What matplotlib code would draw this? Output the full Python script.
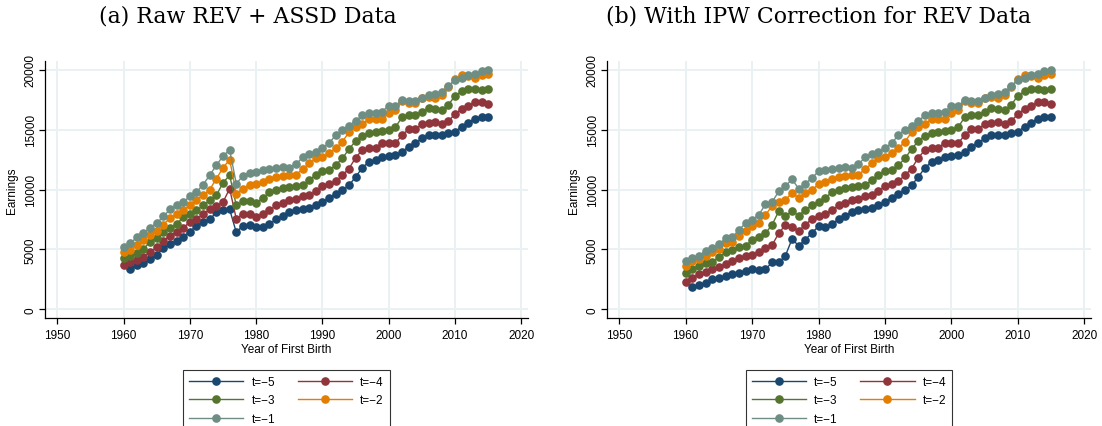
import numpy as np
import matplotlib
matplotlib.use('Agg')
import matplotlib.pyplot as plt
from matplotlib.lines import Line2D

years = np.arange(1960, 2016)
labels = ["t=\u22125", "t=\u22124", "t=\u22123", "t=\u22122", "t=\u22121"]
colors = ["#1a476f", "#90353b", "#55752f", "#e37e00", "#6e8e84"]

# (a) dados brutos REV + ASSD
raw_t5 = [np.nan, 3410, 3720, 3860, 4200, 4560, 5120, 5450, 5730, 6070,
          6490, 6990, 7270, 7500, 8110, 8250, 8340, 6430, 6990, 7080,
          6850, 6850, 7130, 7500, 7830, 8110, 8250, 8390, 8480, 8670,
          8950, 9290, 9650, 9930, 10350, 11050, 11800, 12310, 12450, 12730,
          12780, 12870, 13150, 13570, 13850, 14270, 14540, 14540, 14540, 14680,
          14820, 15240, 15580, 15890, 16080, 16080]
raw_t4 = [3690, 3920, 4110, 4340, 4810, 5170, 5730, 6150, 6430, 6770,
          7330, 7550, 7920, 8340, 8590, 8950, 10070, 7550, 7970, 7970,
          7690, 7970, 8250, 8670, 8890, 9090, 9170, 9450, 9510, 9850,
          10290, 10430, 10690, 11190, 11750, 12640, 13290, 13480, 13480, 13900,
          13850, 13850, 14540, 15020, 15020, 15440, 15580, 15610, 15470, 15720,
          16280, 16730, 16980, 17260, 17290, 17120]
raw_t3 = [4250, 4420, 4700, 5040, 5650, 5960, 6430, 6770, 7130, 7690,
          7920, 8250, 8670, 9090, 9510, 10570, 11190, 8670, 9010, 9010,
          8890, 9290, 9790, 9930, 10130, 10210, 10270, 10350, 10770, 11240,
          11520, 11610, 12030, 12590, 13370, 14040, 14460, 14680, 14770, 14910,
          14960, 15190, 16030, 16220, 16220, 16500, 16780, 16700, 16590, 17060,
          17820, 18180, 18400, 18380, 18320, 18400]
raw_t2 = [4760, 4980, 5400, 5820, 6240, 6570, 7080, 7610, 7970, 8250,
          8670, 9150, 9510, 9990, 10910, 11800, 12500, 9650, 10070, 10350,
          10430, 10630, 10850, 11050, 11130, 11190, 11240, 11690, 12170, 12590,
          12730, 13010, 13430, 13990, 14770, 15190, 15470, 15860, 15860, 15860,
          16360, 16590, 17340, 17200, 17200, 17620, 17710, 17620, 17900, 18520,
          19240, 19520, 19500, 19300, 19580, 19640]
raw_t1 = [5170, 5510, 6010, 6350, 6830, 7190, 7750, 8340, 8670, 8950,
          9430, 9790, 10410, 11190, 12030, 12780, 13310, 10490, 11130, 11410,
          11470, 11610, 11750, 11830, 11890, 11830, 12110, 12670, 12920, 13090,
          13480, 13850, 14540, 14960, 15330, 15720, 16170, 16360, 16360, 16500,
          16980, 16920, 17480, 17340, 17340, 17620, 17900, 17960, 18130, 18600,
          19160, 19300, 19580, 19640, 19860, 19940]

# (b) com correcao IPW
ipw_t5 = [np.nan, 1870, 2040, 2240, 2520, 2660, 2800, 2940, 3080, 3220,
          3360, 3300, 3360, 3920, 3920, 4480, 5870, 5310, 5820, 6380,
          6940, 6850, 7130, 7500, 7830, 8110, 8250, 8390, 8480, 8670,
          8950, 9290, 9650, 9930, 10350, 11050, 11800, 12310, 12450, 12730,
          12780, 12870, 13150, 13570, 13850, 14270, 14540, 14540, 14540, 14680,
          14820, 15240, 15580, 15890, 16080, 16080]
ipw_t4 = [2290, 2660, 2940, 3130, 3410, 3500, 3830, 4060, 4250, 4480,
          4530, 4810, 5090, 5370, 6350, 7050, 6850, 6570, 7050, 7550,
          7750, 7970, 8250, 8670, 8890, 9090, 9170, 9450, 9510, 9850,
          10290, 10430, 10690, 11190, 11750, 12640, 13290, 13480, 13480, 13900,
          13850, 13850, 14540, 15020, 15020, 15440, 15580, 15610, 15470, 15720,
          16280, 16730, 16980, 17260, 17290, 17120]
ipw_t3 = [3080, 3360, 3640, 3860, 3970, 4340, 4760, 4950, 5170, 5310,
          5790, 6010, 6350, 7050, 8200, 7750, 8200, 7830, 8310, 8670,
          8950, 9290, 9790, 9930, 10130, 10210, 10270, 10350, 10770, 11240,
          11520, 11610, 12030, 12590, 13370, 14040, 14460, 14680, 14770, 14910,
          14960, 15190, 16030, 16220, 16220, 16500, 16780, 16700, 16590, 17060,
          17820, 18180, 18400, 18380, 18320, 18400]
ipw_t2 = [3640, 4000, 4200, 4420, 4760, 5040, 5510, 5650, 6150, 6570,
          6990, 7190, 7890, 8620, 8950, 9150, 9710, 9290, 9710, 9990,
          10430, 10630, 10850, 11050, 11130, 11190, 11240, 11690, 12170, 12590,
          12730, 13010, 13430, 13990, 14770, 15190, 15470, 15860, 15860, 15860,
          16360, 16590, 17340, 17200, 17200, 17620, 17710, 17620, 17900, 18520,
          19240, 19520, 19500, 19300, 19580, 19640]
ipw_t1 = [4060, 4250, 4480, 4900, 5090, 5450, 5930, 6010, 6630, 7190,
          7470, 7890, 8760, 8950, 9850, 10290, 10850, 10070, 10490, 10960,
          11520, 11610, 11750, 11830, 11890, 11830, 12110, 12670, 12920, 13090,
          13480, 13850, 14540, 14960, 15330, 15720, 16170, 16360, 16360, 16500,
          16980, 16920, 17480, 17340, 17340, 17620, 17900, 17960, 18130, 18600,
          19160, 19300, 19580, 19640, 19860, 19940]

x_ticks = np.arange(1950, 2021, 10)
y_ticks = np.arange(0, 20001, 5000)

W, H = 1102, 427
fig = plt.figure(figsize=(W / 100, H / 100), dpi=100)


def painel(left_px, right_px, titulo, title_x, series):
    ax = fig.add_axes([left_px / W, 1 - 319 / H, (right_px - left_px) / W, (319 - 62) / H])
    for ys, c in zip(series, colors):
        ax.plot(years, ys, color=c, lw=1.0, marker='o', ms=5.2, mec=c, mfc=c, zorder=3)
    ax.set_xlim(1948.15, 2021.0)
    ax.set_ylim(-710, 20710)
    ax.set_xticks(x_ticks)
    ax.set_yticks(y_ticks)
    ax.grid(True, color="#eaf1f3", lw=1.4, zorder=0)
    ax.set_axisbelow(True)
    for s in ("top", "right"):
        ax.spines[s].set_visible(False)
    for s in ("left", "bottom"):
        ax.spines[s].set_color("#000000")
        ax.spines[s].set_linewidth(0.9)
    ax.tick_params(direction='out', length=4.5, width=0.9, labelsize=8.5, colors="#000000")
    ax.tick_params(axis='y', pad=1.5)
    for lab in ax.get_yticklabels():
        lab.set_rotation(90)
        lab.set_va('center')
    ax.set_xlabel("Year of First Birth", fontsize=8.5, labelpad=1.5)
    ax.set_ylabel("Earnings", fontsize=8.5, labelpad=5)
    fig.text(title_x / W, 1 - 17 / H, titulo, ha='center', va='center',
             fontsize=15.8, family='DejaVu Serif')

    cx = (left_px + right_px) / 2 / W
    handles = [Line2D([], [], color=c, lw=1.0, marker='o', ms=5.2) for c in colors]
    order = [0, 2, 4, 1, 3]
    leg = fig.legend([handles[i] for i in order], [labels[i] for i in order],
                     loc='upper center', bbox_to_anchor=(cx, 1 - 365 / H),
                     ncol=2, fontsize=8.5, frameon=True, fancybox=False,
                     handlelength=4.6, handletextpad=0.7, columnspacing=1.9,
                     labelspacing=0.55, borderpad=0.5)
    leg.get_frame().set_edgecolor("#000000")
    leg.get_frame().set_linewidth(0.8)
    return ax


plt.rcParams['font.family'] = ['Liberation Sans', 'DejaVu Sans']
painel(45, 528, "(a) Raw REV + ASSD Data", 248, [raw_t5, raw_t4, raw_t3, raw_t2, raw_t1])
painel(607, 1091, "(b) With IPW Correction for REV Data", 819, [ipw_t5, ipw_t4, ipw_t3, ipw_t2, ipw_t1])

fig.savefig("out.png", dpi=100)
